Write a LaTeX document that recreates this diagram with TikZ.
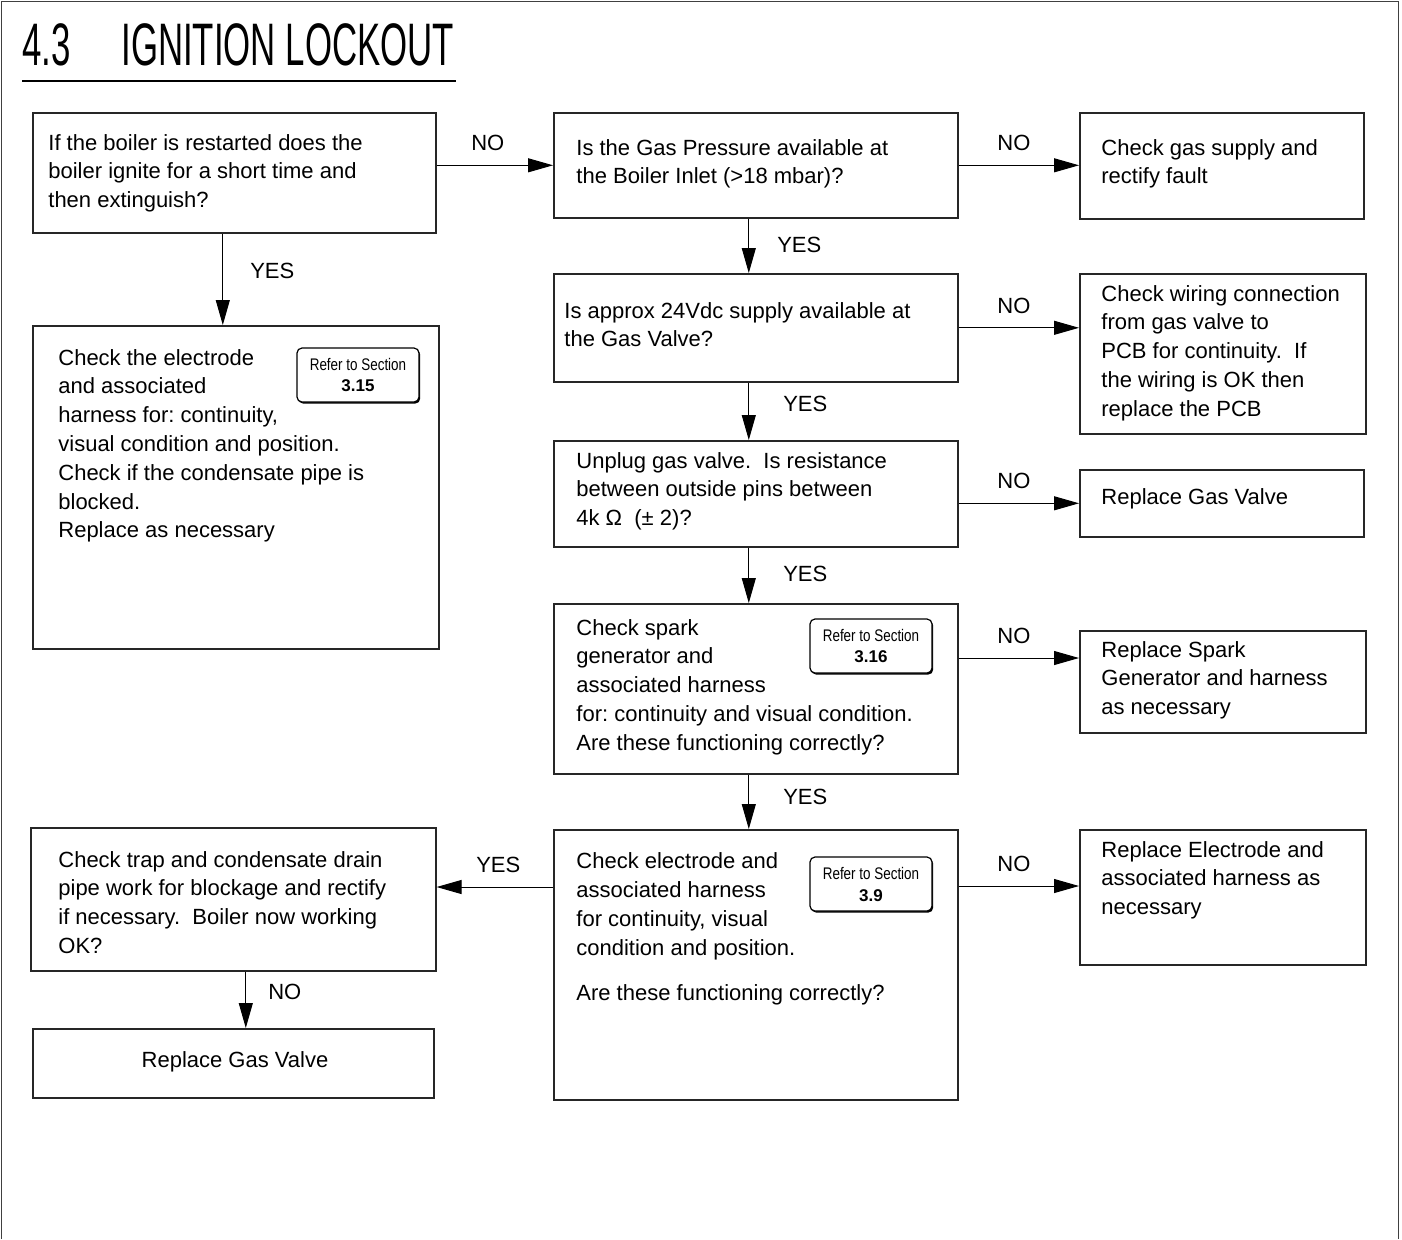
\documentclass[tikz,border=0pt]{standalone}
\usepackage{fontspec}
\setmainfont{Liberation Sans}
\newfontfamily\titlefont[FakeStretch=0.58]{Liberation Sans}
\newfontfamily\reffont[FakeStretch=0.8]{Liberation Sans}
\usetikzlibrary{arrows.meta,shadows}
\frenchspacing
\tikzset{
  flowbox/.style={draw=black!85,line width=0.8pt,anchor=north west,inner sep=0pt},
  flowtext/.style={anchor=base west,align=left,inner sep=0pt,
                   font=\fontsize{11}{14.4}\selectfont},
  flowarrow/.style={-{Triangle[length=12.5pt,width=7pt]},line width=0.5pt},
  flowlabel/.style={font=\fontsize{11}{13}\selectfont,inner sep=0pt},
  refbox/.style={draw,line width=0.6pt,rounded corners=2.5pt,fill=white,
                 align=center,inner sep=0pt,minimum width=61pt,minimum height=27pt,
                 drop shadow={fill=black,opacity=1,shadow xshift=0.6pt,shadow yshift=-0.8pt}}
}
\begin{document}
\begin{tikzpicture}[x=0.5pt,y=-0.5pt]
  \useasboundingbox (0,0) rectangle (1402,1239);
  \draw[line width=0.8pt,black!75] (1.5,1239) -- (1.5,1.5) -- (1398.5,1.5) -- (1398.5,1239);

  % heading
  \node[anchor=base west,inner sep=0pt,font=\titlefont\fontsize{30}{30}\selectfont]
    (secnum) at (22,65) {4.3};
  \node[anchor=base west,inner sep=0pt,font=\titlefont\fontsize{30}{30}\selectfont]
    (title) at (121,65) {IGNITION LOCKOUT};
  \draw[line width=1pt] ([yshift=-8pt]secnum.base west) -- ([yshift=-8pt,xshift=1pt]title.base east);

  % boxes
  \node[flowbox,minimum width=201.5pt,minimum height=60pt] (restart) at (32,112) {};
  \node[flowbox,minimum width=202pt,minimum height=52.5pt] (pressure) at (553,112) {};
  \node[flowbox,minimum width=142pt,minimum height=53pt] (supply) at (1079,112) {};
  \node[flowbox,minimum width=202pt,minimum height=54pt] (dc) at (553,273) {};
  \node[flowbox,minimum width=143pt,minimum height=80pt] (wiring) at (1079,273) {};
  \node[flowbox,minimum width=202pt,minimum height=53pt] (unplug) at (553,440) {};
  \node[flowbox,minimum width=142pt,minimum height=33.5pt] (newvalve) at (1079,469) {};
  \node[flowbox,minimum width=202pt,minimum height=85pt] (spark) at (553,603) {};
  \node[flowbox,minimum width=143pt,minimum height=51pt] (newspark) at (1079,630) {};
  \node[flowbox,minimum width=202pt,minimum height=135pt] (electrode) at (553,829) {};
  \node[flowbox,minimum width=143pt,minimum height=67.5pt] (newelectrode) at (1079,829) {};
  \node[flowbox,minimum width=202.5pt,minimum height=71.5pt] (trap) at (30,827) {};
  \node[flowbox,minimum width=200.5pt,minimum height=34.5pt] (lastvalve) at (32,1028) {};
  \node[flowbox,minimum width=203pt,minimum height=161.5pt] (harness) at (32,325) {};

  % box texts (placed by the baseline of their last line)
  \node[flowtext] (restart-t) at (48,207.6)
    {If the boiler is restarted does the\\boiler ignite for a short time and\\then extinguish?};
  \node[flowtext] (pressure-t) at (576,183.8)
    {Is the Gas Pressure available at\\the Boiler Inlet (>18 mbar)?};
  \node[flowtext] (supply-t) at (1101,183.8)
    {Check gas supply and\\rectify fault};
  \node[flowtext] (dc-t) at (564,346.8)
    {Is approx 24Vdc supply available at\\the Gas Valve?};
  \node[flowtext] (wiring-t) at (1101,416.2)
    {Check wiring connection\\from gas valve to\\PCB for continuity.\ \ If\\the wiring is OK then\\replace the PCB};
  \node[flowtext] (unplug-t) at (576,525.6)
    {Unplug gas valve.\ \ Is resistance\\between outside pins between\\4k Ω\ \ (± 2)?};
  \node[flowtext] (newvalve-t) at (1101,504) {Replace Gas Valve};
  \node[flowtext] (spark-t) at (576,750.2)
    {Check spark\\generator and\\associated harness\\for: continuity and visual condition.\\Are these functioning correctly?};
  \node[flowtext] (newspark-t) at (1101,714.6)
    {Replace Spark\\Generator and harness\\as necessary};
  \node[flowtext] (electrode-t) at (576,1000)
    {Check electrode and\\associated harness\\for continuity, visual\\condition and position.\\[8pt]Are these functioning correctly?};
  \node[flowtext] (newelectrode-t) at (1101,914.6)
    {Replace Electrode and\\associated harness as\\necessary};
  \node[flowtext] (trap-t) at (58,953.4)
    {Check trap and condensate drain\\pipe work for blockage and rectify\\if necessary.\ \ Boiler now working\\OK?};
  \node[flowtext,anchor=base] (lastvalve-t) at (235,1067) {Replace Gas Valve};
  \node[flowtext] (harness-t) at (58,537.8)
    {Check the electrode\\and associated\\harness for: continuity,\\visual condition and position.\\Check if the condensate pipe is\\blocked.\\Replace as necessary};

  % section references
  \node[refbox] (ref315) at (358,375)
    {{\reffont\fontsize{8.4}{10}\selectfont Refer to Section}\\[-1.5pt]{\fontsize{8.5}{10}\selectfont\bfseries 3.15}};
  \node[refbox] (ref316) at (871,646)
    {{\reffont\fontsize{8.4}{10}\selectfont Refer to Section}\\[-1.5pt]{\fontsize{8.5}{10}\selectfont\bfseries 3.16}};
  \node[refbox] (ref39) at (871,884)
    {{\reffont\fontsize{8.4}{10}\selectfont Refer to Section}\\[-1pt]{\fontsize{8.5}{10}\selectfont\bfseries 3.9}};

  % connectors
  \draw[flowarrow] (restart.east |- pressure.west) -- (pressure.west)
    node[flowlabel,pos=0.44,above=7pt] {NO};
  \draw[flowarrow] (pressure.east) -- (pressure.east -| supply.west)
    node[flowlabel,pos=0.46,above=7pt] {NO};
  \draw[flowarrow] ([xshift=-3.5pt]pressure.south) -- ([xshift=-3.5pt]dc.north)
    node[flowlabel,pos=0.48,right=14pt] {YES};
  \draw[flowarrow] (dc.east) -- (dc.east -| wiring.west)
    node[flowlabel,pos=0.46,above=7pt] {NO};
  \draw[flowarrow] ([xshift=-3.5pt]dc.south) -- ([xshift=-3.5pt]unplug.north)
    node[flowlabel,pos=0.37,right=17pt] {YES};
  \draw[flowarrow] (unplug.east |- newvalve.west) -- (newvalve.west)
    node[flowlabel,pos=0.46,above=7pt] {NO};
  \draw[flowarrow] ([xshift=-3.5pt]unplug.south) -- ([xshift=-3.5pt]spark.north)
    node[flowlabel,pos=0.47,right=17pt] {YES};
  \draw[flowarrow] ([yshift=-27.5pt]spark.north east) -- ([yshift=-27.5pt]spark.north east -| newspark.west)
    node[flowlabel,pos=0.46,above=7pt] {NO};
  \draw[flowarrow] ([xshift=-3.5pt]spark.south) -- ([xshift=-3.5pt]electrode.north)
    node[flowlabel,pos=0.41,right=17pt] {YES};
  \draw[flowarrow] ([yshift=-28.5pt]electrode.north east) -- ([yshift=-28.5pt]electrode.north east -| newelectrode.west)
    node[flowlabel,pos=0.46,above=7pt] {NO};
  \draw[flowarrow] ([yshift=-29pt]electrode.north west) -- ([yshift=-29pt]electrode.north west -| trap.east)
    node[flowlabel,pos=0.47,above=7pt] {YES};
  \draw[flowarrow] ([xshift=-5.75pt]restart.south) -- ([xshift=-5.75pt]restart.south |- harness.north)
    node[flowlabel,pos=0.41,right=13.5pt] {YES};
  \draw[flowarrow] ([xshift=6.25pt]trap.south) -- ([xshift=6.25pt]trap.south |- lastvalve.north)
    node[flowlabel,pos=0.36,right=11pt] {NO};
\end{tikzpicture}
\end{document}
